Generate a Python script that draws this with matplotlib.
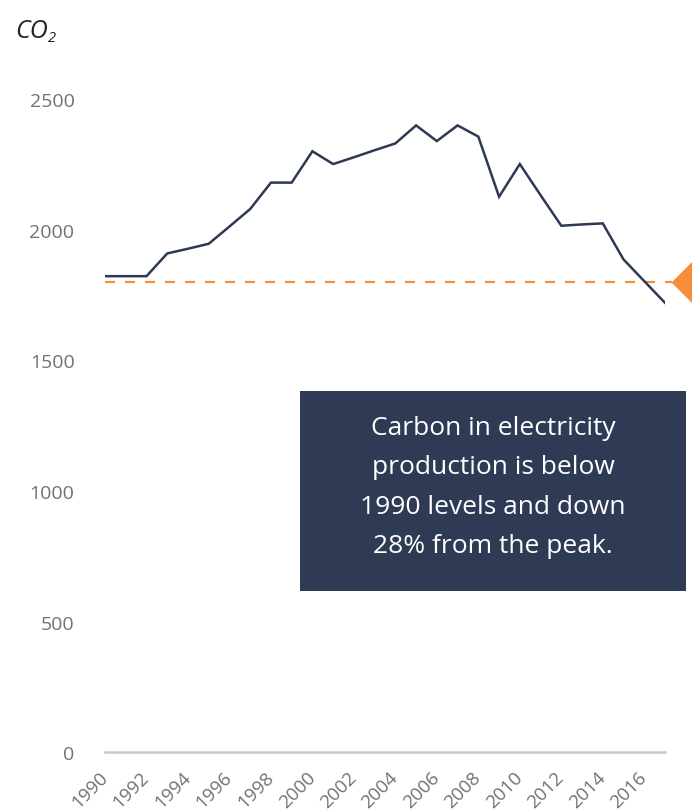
import matplotlib
matplotlib.use("Agg")
import matplotlib.pyplot as plt
from matplotlib.patches import Rectangle
from matplotlib import transforms

plt.rcParams['font.family'] = ['Open Sans', 'DejaVu Sans']

years = [1990, 1991, 1992, 1993, 1994, 1995, 1996, 1997, 1998, 1999,
         2000, 2001, 2002, 2003, 2004, 2005, 2006, 2007, 2008, 2009,
         2010, 2011, 2012, 2013, 2014, 2015, 2016, 2017]
co2 = [1822, 1822, 1822, 1909, 1927, 1946, 2012, 2079, 2180, 2180,
       2300, 2251, 2277, 2304, 2330, 2399, 2339, 2399, 2356, 2126,
       2251, 2132, 2015, 2020, 2024, 1886, 1803, 1720]
level_1990 = 1800
yticks = [0, 500, 1000, 1500, 2000, 2500]
xticks = list(range(1990, 2017, 2))
note = "Carbon in electricity\nproduction is below\n1990 levels and down\n28% from the peak."

navy = '#2d3a53'
orange = '#f58d3b'
grey = '#727272'

fig = plt.figure(figsize=(6.92, 8.12), dpi=100)
ax = fig.add_axes([105 / 692, 1 - 753.3 / 812, 560 / 692, 653.3 / 812])

ax.plot(years, co2, color=navy, lw=1.8, solid_joinstyle='miter', zorder=3)
ax.axhline(level_1990, xmin=0, xmax=1.012, color=orange, lw=1.6,
           dashes=(4.5, 4.5), clip_on=False, zorder=2)

# orange pointer on the right edge
trans = transforms.blended_transform_factory(fig.transFigure, ax.transData)
ax.plot([1.0], [level_1990], marker='D', ms=20, color=orange,
        transform=trans, clip_on=False, zorder=4)

ax.set_xlim(1990, 2017)
ax.set_ylim(0, 2500)
ax.set_yticks(yticks)
ax.set_xticks(xticks)
ax.set_xticklabels([str(y) for y in xticks], rotation=45, ha='right',
                   va='center', rotation_mode='anchor')
shift = transforms.ScaledTranslation(4 / 100, 0, fig.dpi_scale_trans)
for lab in ax.get_xticklabels():
    lab.set_transform(lab.get_transform() + shift)

for s in ['top', 'right', 'left']:
    ax.spines[s].set_visible(False)
ax.spines['bottom'].set_color('#c8c8c8')
ax.spines['bottom'].set_linewidth(1.8)
ax.tick_params(axis='y', length=0, pad=22, labelsize=14, labelcolor=grey)
ax.tick_params(axis='x', length=0, pad=16, labelsize=13.5, labelcolor=grey)

# CO2 label
fig.text(15 / 692, 1 - 32 / 812, "CO", fontsize=18, style='italic',
         color='#222222', ha='left', va='center')
fig.text(48 / 692, 1 - 38 / 812, "2", fontsize=10.5, style='italic',
         color='#222222', ha='left', va='center')

# note box
fig.add_artist(Rectangle((300 / 692, 1 - 592 / 812), 386 / 692, 200 / 812,
                         transform=fig.transFigure, color='#2f3b55', lw=0))
fig.text(493 / 692, 1 - 487.5 / 812, note, color='white', fontsize=19,
         ha='center', va='center', linespacing=1.74)

fig.savefig("out.png", dpi=100)
